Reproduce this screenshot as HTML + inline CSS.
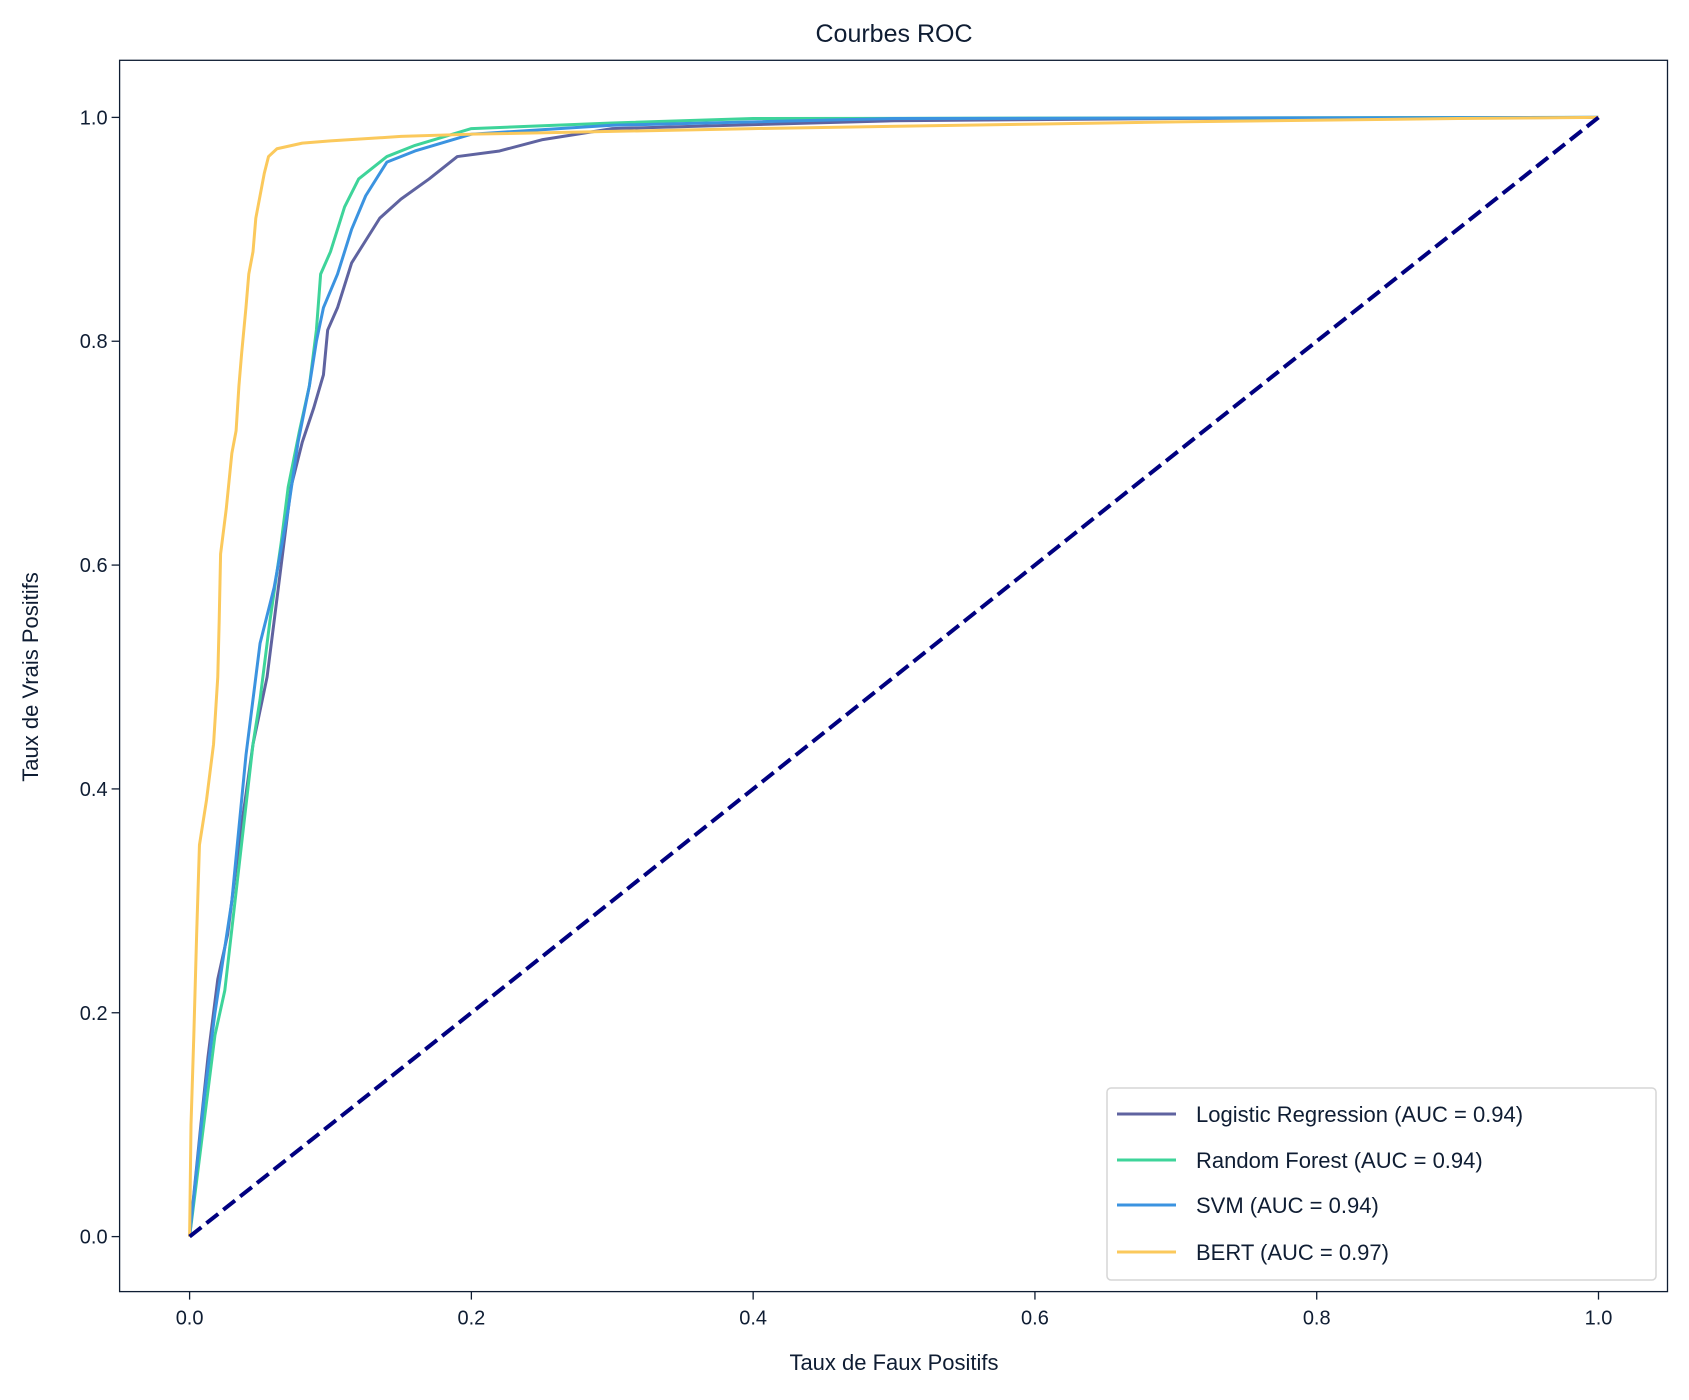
<!DOCTYPE html>
<html><head><meta charset="utf-8"><style>
body{margin:0;background:#fff;}
svg{display:block;font-family:"Liberation Sans",sans-serif;fill:#0f1d33;}
</style></head><body>
<svg id="chart" width="1689" height="1400" xmlns="http://www.w3.org/2000/svg">
<rect width="1689" height="1400" fill="#fff"/>
<text x="894" y="42" font-size="25" text-anchor="middle">Courbes ROC</text>
<g id="plot"></g>
<text x="894" y="1370" font-size="22" text-anchor="middle">Taux de Faux Positifs</text>
<text x="38" y="677" font-size="22" text-anchor="middle" transform="rotate(-90 38 677)">Taux de Vrais Positifs</text>
</svg>
<script>
const xTicks=[0,0.2,0.4,0.6,0.8,1.0];
const yTicks=[0,0.2,0.4,0.6,0.8,1.0];
const seriesNames=["Logistic Regression (AUC = 0.94)","Random Forest (AUC = 0.94)","SVM (AUC = 0.94)","BERT (AUC = 0.97)"];
const seriesColors=["#5f63a0","#3ed49a","#3b93e0","#fbc95c"];
const lrFpr=[0,0.004,0.008,0.013,0.02,0.027,0.035,0.045,0.055,0.062,0.067,0.072,0.08,0.088,0.095,0.098,0.105,0.11,0.115,0.125,0.135,0.15,0.17,0.19,0.22,0.25,0.3,0.5,0.7,1];
const lrTpr=[0,0.05,0.1,0.16,0.23,0.27,0.35,0.44,0.5,0.57,0.62,0.67,0.71,0.74,0.77,0.81,0.83,0.85,0.87,0.89,0.91,0.927,0.945,0.965,0.97,0.98,0.99,0.997,0.999,1];
const rfFpr=[0,0.005,0.01,0.018,0.025,0.035,0.045,0.05,0.057,0.065,0.07,0.078,0.085,0.09,0.093,0.1,0.11,0.12,0.14,0.16,0.2,0.3,0.4,1];
const rfTpr=[0,0.05,0.1,0.18,0.22,0.33,0.44,0.48,0.55,0.62,0.67,0.72,0.76,0.81,0.86,0.88,0.92,0.945,0.965,0.975,0.99,0.995,0.999,1];
const svmFpr=[0,0.005,0.01,0.018,0.03,0.04,0.05,0.06,0.07,0.077,0.085,0.09,0.095,0.105,0.115,0.125,0.14,0.16,0.2,0.3,0.5,1];
const svmTpr=[0,0.06,0.12,0.2,0.3,0.43,0.53,0.58,0.65,0.71,0.76,0.8,0.83,0.86,0.9,0.93,0.96,0.97,0.985,0.993,0.999,1];
const bertFpr=[0,0.001,0.003,0.005,0.007,0.012,0.017,0.02,0.021,0.022,0.026,0.03,0.033,0.035,0.037,0.04,0.042,0.045,0.047,0.05,0.053,0.056,0.062,0.08,0.1,0.15,0.2,0.4,0.6,0.7,0.9,1];
const bertTpr=[0,0.1,0.18,0.27,0.35,0.39,0.44,0.5,0.55,0.61,0.65,0.7,0.72,0.76,0.79,0.83,0.86,0.88,0.91,0.93,0.95,0.965,0.972,0.977,0.979,0.983,0.985,0.99,0.994,0.996,0.999,1];
const diagX=[0,1];
const diagY=[0,1];

const NS="http://www.w3.org/2000/svg";
const L=119.6,R=1667.5,T=60.3,B=1291.6;
const sx=v=>189.6+v*(1598.5-189.6);
const sy=v=>1236.6-v*(1236.6-117.4);
const g=document.getElementById('plot');
function mk(t,a){const e=document.createElementNS(NS,t);for(const k in a)e.setAttribute(k,a[k]);g.appendChild(e);return e;}

xTicks.forEach(v=>{
  const t=mk('line',{x1:sx(v),x2:sx(v),y1:B,y2:B+8,stroke:'#0f1d33','stroke-width':1.3});
  
  
  const l=mk('text',{x:sx(v),y:B+33,'font-size':20,'text-anchor':'middle'});
  l.textContent=v.toFixed(1);
  
  
});
yTicks.forEach(v=>{
  const t=mk('line',{x1:L-8,x2:L,y1:sy(v),y2:sy(v),stroke:'#0f1d33','stroke-width':1.3});
  
  
  const l=mk('text',{x:L-12,y:sy(v)+7,'font-size':20,'text-anchor':'end'});
  l.textContent=v.toFixed(1);
  
  
});

const xs=[lrFpr,rfFpr,svmFpr,bertFpr],ys=[lrTpr,rfTpr,svmTpr,bertTpr];
const keys=['logistic-regression','random-forest','svm','bert'];
xs.forEach((X,i)=>{
  const p=mk('polyline',{points:X.map((x,j)=>sx(x)+','+sy(ys[i][j])).join(' '),fill:'none',stroke:seriesColors[i],'stroke-width':3,'stroke-linejoin':'round'});
  
  
});
const d=mk('line',{x1:sx(diagX[0]),y1:sy(diagY[0]),x2:sx(diagX[1]),y2:sy(diagY[1]),stroke:'#000080','stroke-width':4,'stroke-dasharray':'15,6.5'});



const fr=mk('rect',{x:L,y:T,width:R-L,height:B-T,fill:'none',stroke:'#0f1d33','stroke-width':1.3});



const lg=mk('rect',{x:1107,y:1088,width:549,height:192,rx:4,fill:'#fff','fill-opacity':0.8,stroke:'#d6d6d6','stroke-width':1.5});


const ly=[1114,1160,1205,1252];
seriesNames.forEach((n,i)=>{
  const ln=mk('line',{x1:1117,x2:1176,y1:ly[i],y2:ly[i],stroke:seriesColors[i],'stroke-width':3});
  
  
  const t=mk('text',{x:1196,y:ly[i]+8,'font-size':22});
  t.textContent=n;
  
  
});
</script>
</body></html>
